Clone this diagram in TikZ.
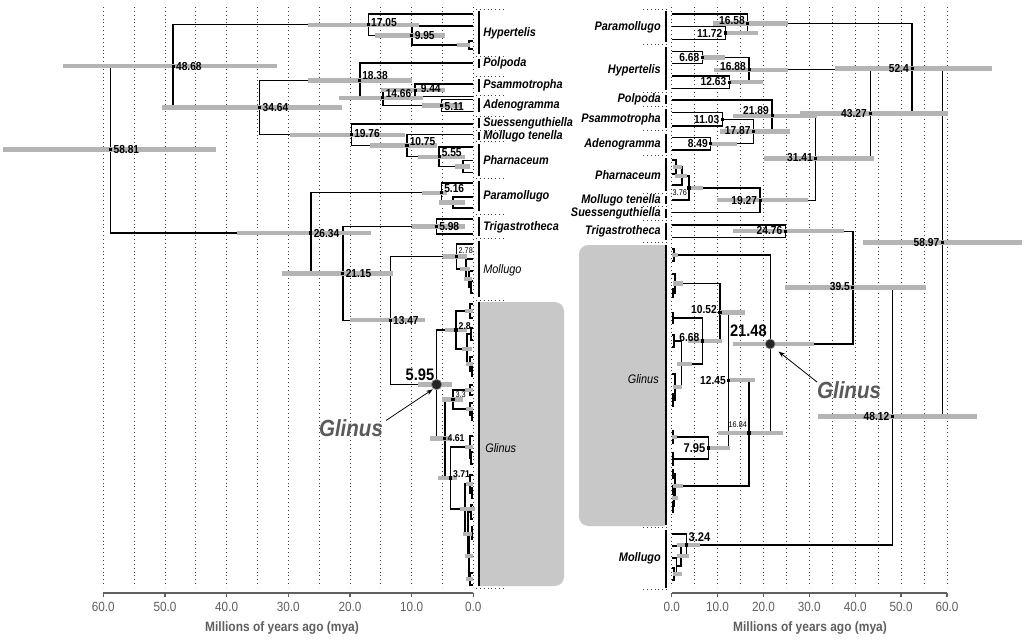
\documentclass[tikz,border=0pt]{standalone}
\usepackage{fontspec}
\setmainfont{Liberation Sans}[FakeStretch=0.88]
\usetikzlibrary{arrows.meta}
\definecolor{hpdc}{HTML}{B4B4B4}
\definecolor{boxg}{HTML}{C8C8C8}
\definecolor{anno}{HTML}{5A5A5A}
\definecolor{axg}{HTML}{606060}
\newcommand{\xl}[1]{473.3-6.167*#1}
\newcommand{\xr}[1]{671.7+4.588*#1}
\newcommand{\brk}[5]{\draw[br] (#3,#2) -- (#1,#2) -- (#1,#4) -- (#5,#4);}
\newcommand{\hp}[3]{\draw[hpdl] (#1,#3) -- (#2,#3);}
\newcommand{\nd}[2]{\node[ndot] at (#1,#2) {};}
\begin{document}
\begin{tikzpicture}[x=0.75pt,y=-0.75pt,
  br/.style={line width=0.95pt,black},
  hpdl/.style={line width=3.3pt,hpdc},
  ndot/.style={fill=black,inner sep=0pt,minimum size=2.3pt},
  grid/.style={black!75,line width=0.6pt,dash pattern=on 0.7pt off 2.2pt},
  cbar/.style={line width=1.5pt,black},
  axisl/.style={axg,line width=1pt},
  axl/.style={font=\fontsize{10}{11}\selectfont,text=axg},
  ttl/.style={font=\fontsize{10.2}{12}\selectfont\bfseries,text=axg},
  num/.style={font=\fontsize{8.7}{9}\selectfont\bfseries,inner sep=0.4pt},
  snum/.style={font=\fontsize{6.2}{7}\selectfont,inner sep=0.3pt},
  mnum/.style={font=\fontsize{7.4}{8}\selectfont\bfseries,inner sep=0.3pt},
  bnum/.style={font=\fontsize{12.5}{14}\selectfont\bfseries,inner sep=0pt},
  clade/.style={font=\fontsize{9.3}{10}\selectfont\bfseries\itshape,inner sep=0pt},
  cladeb/.style={font=\fontsize{9.3}{10}\selectfont\itshape,inner sep=0pt},
  glab/.style={font=\fontsize{17.5}{20}\selectfont\bfseries\itshape,text=anno,inner sep=0pt},
  arr/.style={-{Stealth[length=5pt,width=3.5pt]},line width=0.6pt,black}]
\useasboundingbox (0,0) rectangle (1024,640);
\fill[white] (0,0) rectangle (1024,640);
% ---------- grid lines ----------
\foreach \t in {0,5,...,60}{
  \draw[grid] ({\xl{\t}},7) -- ({\xl{\t}},587);
  \draw[grid] ({\xr{\t}},7) -- ({\xr{\t}},587);
}
% ---------- gray boxes ----------
\begin{scope}
  \clip (478,0) rectangle (700,640);
  \fill[boxg,rounded corners=7pt] (440,302) rectangle (564,586);
\end{scope}
\begin{scope}
  \clip (500,0) rectangle (665,640);
  \fill[boxg,rounded corners=7pt] (579,245) rectangle (700,526);
\end{scope}
% ---------- separators ----------
\foreach \y in {9.3,56.7,76,95,116,130,141.7,178,214,238.3,300,588}{
  \draw[grid] (476,\y) -- (506,\y);
}
\foreach \y in {9,44.3,92.3,106.7,130.7,155.3,193.3,206.7,220,242.7,527.3,589.3}{
  \draw[grid] (643,\y) -- (668,\y);
}
% ---------- clade bars ----------
\foreach \a/\b in {11/54,59/68,79/92,98/112,118/128,132/140,144/176,181/211,217/236,241/297,302/586}{
  \draw[cbar] (479,\a) -- (479,\b);
}
\foreach \a/\b in {11/42,47/90,95/104,109/128,134/153,158/191,196/204,209/218,223/240,245/525,530/588}{
  \draw[cbar] (666,\a) -- (666,\b);
}
% ---------- LEFT TREE branches ----------
\brk{173.1}{24.75}{368.2}{107.6}{259.7}
\brk{368.2}{14}{473.3}{35.5}{411.9}
\brk{411.9}{26}{473.3}{45}{469}
\brk{469}{41}{473.3}{49}{473.3}
\brk{259.7}{80.4}{359.9}{134.75}{351.4}
\brk{359.9}{63}{473.3}{97.75}{382.9}
\brk{382.9}{90.25}{415.1}{105.5}{441.8}
\brk{415.1}{84}{473.3}{96.5}{473.3}
\brk{441.8}{99.3}{473.3}{111.7}{473.3}
\brk{351.4}{124}{473.3}{145.5}{407.0}
\brk{407.0}{134.3}{473.3}{156.7}{439.1}
\brk{439.1}{147}{473.3}{166.4}{463}
\brk{463}{160.5}{473.3}{172.3}{473.3}
\brk{110.6}{66.2}{173.1}{233}{310.9}
\brk{310.9}{192.75}{441.5}{273.4}{342.9}
\brk{441.5}{183}{473.3}{202.5}{453}
\brk{453}{197}{473.3}{208}{473.3}
\brk{342.9}{226.5}{436.4}{320.25}{390.2}
\brk{436.4}{219}{473.3}{234}{473.3}
\brk{390.2}{256.5}{456.2}{384.5}{436.6}
\brk{456.2}{244}{473.3}{269}{466}
\brk{466}{259}{473.3}{279}{469}
\brk{469}{271}{473.3}{287}{471}
\brk{471}{281}{473.3}{293}{473.3}
\brk{436.6}{330}{456.0}{438.5}{444.9}
\brk{456.0}{311}{470}{349}{467}
\brk{470}{304}{473.3}{318}{473.3}
\brk{467}{334}{471}{364}{470}
\brk{471}{328}{473.3}{340}{473.3}
\brk{470}{357}{473.3}{371}{472}
\brk{472}{366}{473.3}{376}{473.3}
\brk{444.9}{399.5}{453.0}{478}{450.4}
\brk{453.0}{390}{470}{409}{470}
\brk{470}{385}{473.3}{395}{473.3}
\brk{470}{403}{473.3}{415}{472}
\brk{472}{410}{473.3}{420}{473.3}
\brk{450.4}{447}{470}{509}{465}
\brk{470}{436}{473.3}{458}{471}
\brk{471}{452}{473.3}{464}{473.3}
\brk{465}{484}{470}{534}{468}
\brk{470}{475}{473.3}{493}{472}
\brk{472}{488}{473.3}{498}{473.3}
\brk{468}{512}{471}{556}{469}
\brk{471}{505}{473.3}{519}{473.3}
\brk{469}{533}{472}{579}{470}
\brk{472}{527}{473.3}{539}{473.3}
\brk{470}{573}{473.3}{585}{473.3}
% ---------- RIGHT TREE branches ----------
\brk{942.3}{68.4}{912.1}{416.3}{892.5}
\brk{912.1}{23.5}{747.8}{113.35}{870.2}
\brk{747.8}{14}{671.7}{33}{725.5}
\brk{725.5}{26.7}{671.7}{39.3}{671.7}
\brk{870.2}{69.85}{749.1}{158.35}{815.8}
\brk{749.1}{57.5}{702.4}{82.2}{729.6}
\brk{702.4}{51.7}{671.7}{63.3}{671.7}
\brk{729.6}{76}{671.7}{88.3}{671.7}
\brk{815.8}{115.85}{772.1}{200.15}{760.1}
\brk{772.1}{100}{671.7}{131.7}{753.7}
\brk{753.7}{119.35}{722.3}{143.85}{710.7}
\brk{722.3}{112.7}{671.7}{126}{671.7}
\brk{710.7}{137.7}{671.7}{150}{671.7}
\brk{760.1}{188}{689.0}{212.3}{671.7}
\brk{689.0}{176}{682}{200}{671.7}
\brk{682}{167}{676}{185}{671.7}
\brk{676}{160}{671.7}{174}{671.7}
\brk{785.3}{225}{671.7}{237.3}{671.7}
\brk{852.9}{231.15}{785.3}{344}{770.2}
\brk{892.5}{287.6}{852.9}{545}{686.6}
\brk{770.2}{255}{674}{433}{749.0}
\brk{674}{249}{671.7}{261}{671.7}
\brk{749.0}{380.15}{728.8}{486}{675}
\brk{728.8}{312.3}{720.0}{448}{708.2}
\brk{720.0}{283.5}{675}{341}{702.4}
\brk{675}{274}{671.7}{293}{673}
\brk{673}{289}{671.7}{297}{671.7}
\brk{702.4}{318}{673}{364}{681.7}
\brk{673}{313}{671.7}{323}{671.7}
\brk{681.7}{341}{674}{387}{675}
\brk{674}{335}{671.7}{347}{671.7}
\brk{675}{374}{671.7}{400}{673}
\brk{673}{394}{671.7}{406}{671.7}
\brk{708.2}{437}{673}{459}{673}
\brk{673}{431}{671.7}{443}{671.7}
\brk{673}{453}{671.7}{465}{671.7}
\brk{675}{474}{673}{498}{674}
\brk{673}{470}{671.7}{478}{671.7}
\brk{674}{490}{673}{506}{673}
\brk{673}{486}{671.7}{494}{671.7}
\brk{673}{502}{671.7}{512}{671.7}
\brk{686.6}{534}{671.7}{556}{681}
\brk{681}{546}{671.7}{566}{676.5}
\brk{676.5}{558}{671.7}{574}{674}
\brk{674}{568}{671.7}{580}{671.7}
% ---------- LEFT HPD bars ----------
\hp{3}{216}{149.6}
\hp{63}{277}{66.2}
\hp{162}{342}{107.6}
\hp{308}{419}{24.75}
\hp{375}{445}{35.5}
\hp{457}{470}{45}
\hp{308}{412}{80.4}
\hp{381}{445}{90.25}
\hp{339}{423}{97.75}
\hp{422}{462}{105.5}
\hp{290}{405}{134.75}
\hp{370}{437}{145.5}
\hp{418}{465}{156.7}
\hp{455}{470}{166.4}
\hp{422}{447}{192.75}
\hp{439}{465}{202.5}
\hp{412}{465}{226.5}
\hp{237}{371}{233}
\hp{282}{393}{273.4}
\hp{350}{425}{320.25}
\hp{443}{467}{256.5}
\hp{460}{470}{269}
\hp{464}{472}{279}
\hp{418}{452}{384.5}
\hp{445}{467}{330}
\hp{465}{473}{311}
\hp{462}{472}{349}
\hp{466}{473}{364}
\hp{442}{463}{399.5}
\hp{465}{473}{390}
\hp{466}{473}{409}
\hp{430}{450}{438.5}
\hp{438}{457}{478}
\hp{465}{473}{447}
\hp{460}{475}{509}
\hp{466}{473}{484}
\hp{463}{472}{534}
\hp{465}{473}{556}
\hp{466}{473}{579}
% ---------- RIGHT HPD bars ----------
\hp{713}{788}{23.5}
\hp{725}{758}{33}
\hp{835}{992}{68.4}
\hp{702}{725}{57.5}
\hp{714}{788}{69.85}
\hp{729}{763}{82.2}
\hp{800}{948}{113.35}
\hp{733}{817}{115.85}
\hp{720}{790}{131.6}
\hp{710}{737}{143.85}
\hp{764}{874}{158.35}
\hp{717}{808}{200.15}
\hp{689}{703}{188}
\hp{673}{682}{167}
\hp{675}{687}{176}
\hp{733}{844}{231.15}
\hp{863}{1022}{242.3}
\hp{785}{926}{287.6}
\hp{818}{977}{416.3}
\hp{733}{814}{344}
\hp{720}{745}{312.3}
\hp{688}{722}{341}
\hp{729}{755}{380.15}
\hp{718}{783}{433}
\hp{708}{730}{448}
\hp{672}{678}{255}
\hp{673}{683}{283.5}
\hp{677}{692}{364}
\hp{673}{682}{387}
\hp{672}{677}{437}
\hp{673}{683}{486}
\hp{672}{678}{498}
\hp{677}{700}{545}
\hp{677}{689}{556}
\hp{673}{682}{574}
% ---------- node dots ----------
\nd{110.6}{149.6}\nd{173.1}{66.2}\nd{259.7}{107.6}\nd{368.2}{24.75}
\nd{411.9}{35.5}\nd{359.9}{80.4}\nd{415.1}{90.25}\nd{382.9}{97.75}
\nd{441.8}{105.5}\nd{351.4}{134.75}\nd{407.0}{145.5}\nd{439.1}{156.7}
\nd{441.5}{192.75}\nd{436.4}{226.5}\nd{310.9}{233}\nd{342.9}{273.4}
\nd{390.2}{320.25}\nd{456.2}{256.5}\nd{456.0}{330}\nd{453.0}{399.5}
\nd{444.9}{438.5}\nd{450.4}{478}
\nd{942.3}{242.3}\nd{912.1}{68.4}\nd{747.8}{23.5}\nd{725.5}{33}
\nd{870.2}{113.35}\nd{749.1}{69.85}\nd{702.4}{57.5}\nd{729.6}{82.2}
\nd{815.8}{158.35}\nd{772.1}{115.85}\nd{753.7}{131.6}\nd{722.3}{119.35}
\nd{710.7}{143.85}\nd{760.1}{200.15}\nd{689.0}{188}\nd{785.3}{231.15}
\nd{852.9}{287.6}\nd{892.5}{416.3}\nd{749.0}{433}\nd{728.8}{380.15}
\nd{720.0}{312.3}\nd{702.4}{341}\nd{708.2}{448}\nd{686.6}{545}
\fill[black!85,draw=black!45,line width=0.5pt] (436.6,384.5) circle (3.9pt);
\fill[black!85,draw=black!45,line width=0.5pt] (770.2,344) circle (3.7pt);
% ---------- LEFT node labels ----------
\node[num,anchor=west] (l5881) at (112.8,149.6) {58.81};
\node[num,anchor=west] (l4868) at (175.3,66.2) {48.68};
\node[num,anchor=west] (l3464) at (261.9,107.6) {34.64};
\node[num,anchor=west] (l1705) at (370.4,23) {17.05};
\node[num,anchor=west] (l995) at (414,35.5) {9.95};
\node[num,anchor=west] (l1838) at (361.5,76) {18.38};
\node[num,anchor=west] (l944) at (420,89) {9.44};
\node[num,anchor=west] (l1466) at (385,94) {14.66};
\node[num,anchor=west] (l511) at (443.8,106.5) {5.11};
\node[num,anchor=west] (l1976) at (353.5,134) {19.76};
\node[num,anchor=west] (l1075) at (409,142) {10.75};
\node[num,anchor=west] (l555) at (441,153) {5.55};
\node[num,anchor=west] (l516) at (443.5,189) {5.16};
\node[num,anchor=west] (l598) at (438.5,226.5) {5.98};
\node[num,anchor=west] (l2634) at (313,234) {26.34};
\node[num,anchor=west] (l2115) at (345,273.4) {21.15};
\node[num,anchor=west] (l1347) at (392.3,320.25) {13.47};
\node[snum,anchor=west] (l278) at (458,251) {2.78};
\node[mnum,anchor=west] (l28) at (458,326) {2.8};
\node[snum,anchor=west] (l33) at (455,395) {3.3};
\node[mnum,anchor=west] (l461) at (447,438) {4.61};
\node[mnum,anchor=west] (l371) at (452.5,474) {3.71};
\node[bnum] (l595) at (420,375) {5.95};
% ---------- RIGHT node labels ----------
\node[num,anchor=east] (r1658) at (745.5,20.7) {16.58};
\node[num,anchor=east] (r1172) at (723,33.3) {11.72};
\node[num,anchor=east] (r668a) at (700,57.3) {6.68};
\node[num,anchor=east] (r1688) at (746.5,66.7) {16.88};
\node[num,anchor=east] (r1263) at (727,81.7) {12.63};
\node[num,anchor=east] (r524) at (909.5,69) {52.4};
\node[num,anchor=east] (r4327) at (867.5,113.3) {43.27};
\node[num,anchor=east] (r2189) at (769.5,110.7) {21.89};
\node[num,anchor=east] (r1103) at (720,119.3) {11.03};
\node[num,anchor=east] (r1787) at (751.3,131) {17.87};
\node[num,anchor=east] (r849) at (708.5,144) {8.49};
\node[num,anchor=east] (r3141) at (813.5,157.5) {31.41};
\node[snum,anchor=east] (r376) at (687.5,193) {3.76};
\node[num,anchor=east] (r1927) at (757.8,200.5) {19.27};
\node[num,anchor=east] (r2476) at (783,230.7) {24.76};
\node[num,anchor=east] (r5897) at (940,242.3) {58.97};
\node[num,anchor=east] (r395) at (850.5,287) {39.5};
\node[num,anchor=east] (r1052) at (717.5,309) {10.52};
\node[num,anchor=east] (r668b) at (700,337) {6.68};
\node[bnum,anchor=east] (r2148) at (767,331) {21.48};
\node[num,anchor=east] (r1245) at (726.5,380) {12.45};
\node[num,anchor=east] (r4812) at (890,416.3) {48.12};
\node[snum,anchor=east] (r1684) at (747.5,425) {16.84};
\node[font=\fontsize{9.5}{11}\selectfont\bfseries,inner sep=0.3pt,anchor=east] (r795) at (706,448.5) {7.95};
\node[font=\fontsize{9.5}{11}\selectfont\bfseries,inner sep=0.3pt,anchor=west] (r324) at (688,537) {3.24};
% ---------- clade labels ----------
\node[clade,anchor=west] (tH) at (483,33) {Hypertelis};
\node[clade,anchor=west] (tPo) at (483,63.5) {Polpoda};
\node[clade,anchor=west] (tPs) at (483,85.5) {Psammotropha};
\node[clade,anchor=west] (tA) at (483,105) {Adenogramma};
\node[clade,anchor=west] (tS) at (483,123) {Suessenguthiella};
\node[clade,anchor=west] (tMt) at (483,136) {Mollugo tenella};
\node[clade,anchor=west] (tPh) at (483,160) {Pharnaceum};
\node[clade,anchor=west] (tPa) at (483,196) {Paramollugo};
\node[clade,anchor=west] (tT) at (483,227) {Trigastrotheca};
\node[cladeb,anchor=west] (tM) at (483,270) {Mollugo};
\node[cladeb,anchor=west] (tG) at (485,448) {Glinus};
\node[clade,anchor=east] (uPa) at (661,27) {Paramollugo};
\node[clade,anchor=east] (uH) at (661,70) {Hypertelis};
\node[clade,anchor=east] (uPo) at (661,99.5) {Polpoda};
\node[clade,anchor=east] (uPs) at (661,119) {Psammotropha};
\node[clade,anchor=east] (uA) at (661,144) {Adenogramma};
\node[clade,anchor=east] (uPh) at (661,175) {Pharnaceum};
\node[clade,anchor=east] (uMt) at (661,200.5) {Mollugo tenella};
\node[clade,anchor=east] (uS) at (661,213.5) {Suessenguthiella};
\node[clade,anchor=east] (uT) at (661,231) {Trigastrotheca};
\node[cladeb,anchor=east] (uG) at (659,379) {Glinus};
\node[clade,anchor=east] (uM) at (661,558.5) {Mollugo};
% ---------- Glinus annotations ----------
\node[glab] (gL) at (351,428) {Glinus};
\coordinate (gLt) at (432.8,389.3);
\draw[arr] (386,420.5) -- (gLt);
\node[glab] (gR) at (849,390) {Glinus};
\coordinate (gRt) at (778.5,351.5);
\draw[arr] (817,382) -- (gRt);
% ---------- axes ----------
\draw[axisl] ({\xl{60}},593) -- ({\xl{0}},593);
\draw[axisl] ({\xr{0}},593) -- ({\xr{60}},593);
\foreach \t in {0,10,...,60}{
  \draw[axisl] ({\xl{\t}},593) -- ({\xl{\t}},597);
  \node[axl] at ({\xl{\t}},607) {\t.0};
  \draw[axisl] ({\xr{\t}},593) -- ({\xr{\t}},597);
  \node[axl] at ({\xr{\t}},607) {\t.0};
}
\node[ttl] (axL) at (282,628) {Millions of years ago (mya)};
\node[ttl] (axR) at (810,628) {Millions of years ago (mya)};
\end{tikzpicture}
\end{document}
